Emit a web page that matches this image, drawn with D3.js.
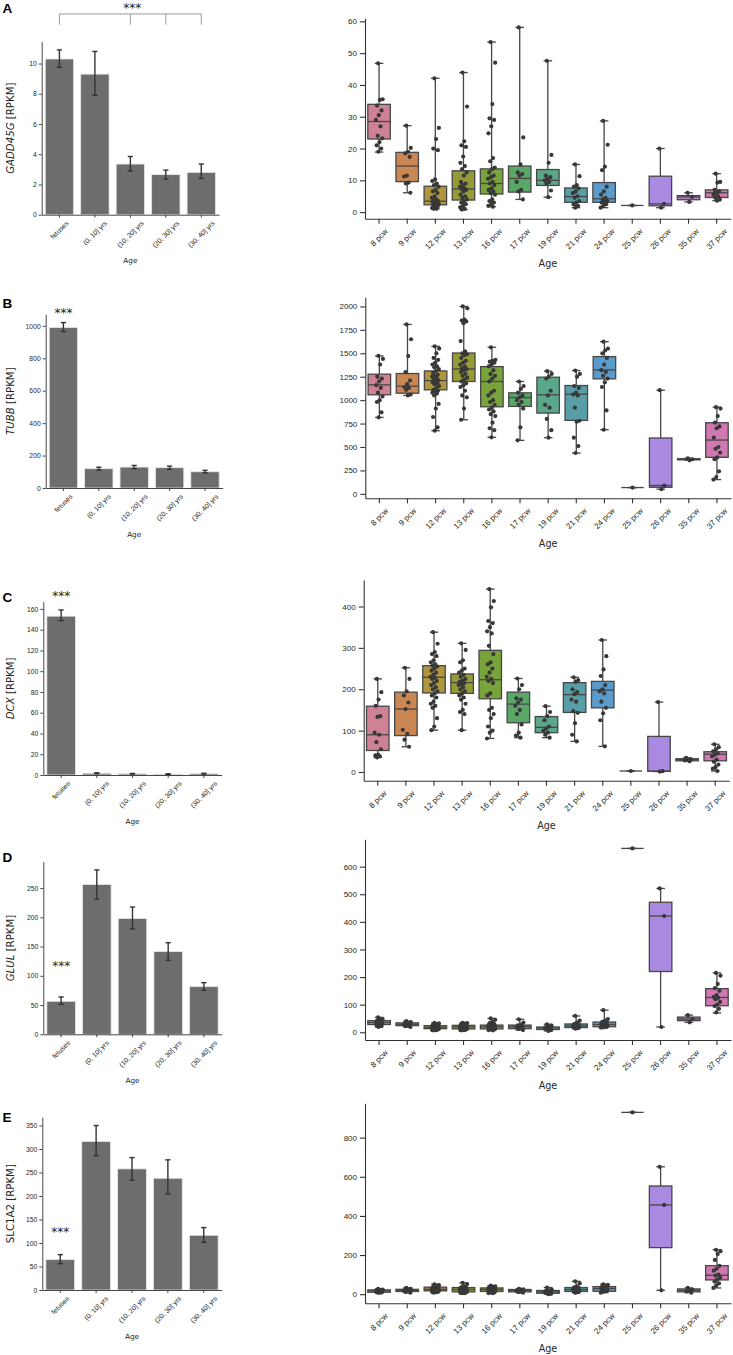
<!DOCTYPE html>
<html>
<head>
<meta charset="utf-8">
<script src="https://cdn.jsdelivr.net/npm/d3@7"></script>
<style>
  body { margin: 0; background: #fff; }
  svg { display: block; font-family: "DejaVu Sans", sans-serif; }
</style>
</head>
<body>
<svg id="fig" width="733" height="1355"></svg>
<script>
//
// Data
//

const ageGroups = ["fetuses", "(0, 10] yrs", "(10, 20] yrs", "(20, 30] yrs", "(30, 40] yrs"];
const pcwGroups = ["8 pcw", "9 pcw", "12 pcw", "13 pcw", "16 pcw", "17 pcw", "19 pcw",
  "21 pcw", "24 pcw", "25 pcw", "26 pcw", "35 pcw", "37 pcw"];
const boxColors = ["#cf8296", "#ca8753", "#b0973d", "#949b37", "#79a33b", "#5ba768", "#5aa78a",
  "#589ea6", "#5a9bcb", "#8a8fd8", "#a98ae0", "#bd78c8", "#cf78b2"];

// GADD45G
const gaddMean = [10.3, 9.3, 3.35, 2.65, 2.8];
const gaddLo = [9.75, 7.9, 2.9, 2.35, 2.4];
const gaddHi = [10.9, 10.8, 3.85, 2.95, 3.35];
// [whisker low, q1, median, q3, whisker high]
const gaddBox = [
  [18.9, 23.0, 28.5, 33.9, 46.8], [6.1, 9.6, 14.5, 18.8, 27.2], [1.05, 2.3, 3.45, 8.15, 42.1],
  [0.8, 3.8, 7.3, 13.0, 43.9], [1.7, 5.7, 9.0, 13.6, 53.5], [4.0, 6.3, 10.6, 14.5, 58.1],
  [4.7, 8.4, 10.0, 13.4, 47.6], [1.4, 3.1, 4.9, 7.6, 15.0], [1.4, 3.1, 4.2, 9.3, 28.7],
  [2.1, 2.1, 2.1, 2.1, 2.1], [1.4, 2.0, 2.6, 11.3, 20.0], [3.2, 3.9, 4.8, 5.2, 6.1],
  [3.6, 4.6, 6.1, 7.0, 12.1]
];
const gaddPts = [
  [46.8, 35.5, 35.3, 33.5, 32.0, 30.5, 29.0, 27.0, 24.0, 23.2, 22.0, 21.0, 20.0, 19.0],
  [27.2, 20.2, 19.0, 18.5, 17.4, 11.5, 11.2, 9.3, 9.0, 6.1],
  [42.1, 26.5, 23.0, 20.0, 19.5, 10.3, 9.8, 9.0, 8.5, 8.0, 7.0, 6.5, 6.0, 5.0, 4.5, 4.0, 3.8, 3.5,
    3.4, 3.2, 3.0, 2.8, 2.5, 2.2, 2.0, 1.8, 1.5, 1.3, 1.1, 1.05],
  [43.9, 33.2, 22.3, 21.0, 20.5, 17.5, 15.5, 14.5, 13.5, 12.5, 11.5, 9.5, 9.0, 8.5, 8.0, 7.5, 7.3,
    7.0, 6.5, 5.5, 5.0, 4.5, 4.0, 3.5, 3.0, 2.5, 2.0, 1.5, 1.0, 0.8],
  [53.5, 47.0, 34.0, 29.5, 29.0, 27.0, 24.8, 17.0, 16.0, 14.0, 13.5, 12.5, 11.5, 11.0, 10.5, 9.5,
    9.0, 8.5, 7.5, 7.0, 6.5, 6.0, 5.5, 4.0, 3.5, 3.0, 2.5, 2.0, 1.7],
  [58.1, 23.5, 15.0, 12.5, 12.0, 11.5, 9.5, 7.0, 6.5, 4.0],
  [47.6, 18.0, 15.5, 11.5, 11.0, 10.5, 10.0, 9.5, 9.0, 6.8, 4.7],
  [15.0, 11.3, 8.5, 8.0, 7.5, 6.5, 6.0, 5.0, 4.5, 3.5, 3.0, 2.5, 2.0, 1.4],
  [28.7, 21.2, 14.3, 13.2, 8.0, 6.5, 5.5, 4.5, 4.0, 3.5, 3.2, 3.0, 2.5, 2.0, 1.4],
  [2.1],
  [20.0, 2.6, 1.4],
  [6.1, 4.8, 3.2],
  [12.1, 9.5, 9.3, 7.0, 6.5, 6.0, 5.5, 5.0, 4.5, 4.0, 3.6]
];

// TUBB
const tubbMean = [990, 119, 129, 125, 100];
const tubbLo = [965, 111, 119, 115, 94];
const tubbHi = [1020, 128, 139, 135, 109];
const tubbBox = [
  [816, 1057, 1163, 1277, 1472], [1050, 1074, 1149, 1284, 1808], [674, 1110, 1209, 1312, 1574],
  [791, 1199, 1333, 1503, 2000], [603, 929, 1199, 1358, 1564], [571, 933, 1028, 1078, 1199],
  [599, 862, 1057, 1245, 1309], [436, 784, 1064, 1156, 1316], [684, 1227, 1323, 1465, 1624],
  [67, 67, 67, 67, 67], [50, 70, 89, 596, 1106], [358, 363, 369, 375, 380],
  [152, 390, 574, 759, 925]
];
const tubbPts = [
  [1472, 1440, 1380, 1250, 1230, 1200, 1160, 1130, 1080, 1040, 1000, 980, 870, 816],
  [1808, 1650, 1470, 1300, 1210, 1170, 1140, 1130, 1110, 1060, 1050],
  [1574, 1550, 1500, 1450, 1430, 1400, 1380, 1360, 1350, 1330, 1310, 1290, 1270, 1260, 1250, 1240,
    1220, 1210, 1200, 1190, 1180, 1170, 1150, 1130, 1110, 1100, 1090, 1080, 1070, 1050, 960, 910,
    820, 710, 674],
  [2000, 1980, 1860, 1850, 1840, 1820, 1630, 1520, 1500, 1490, 1480, 1450, 1420, 1400, 1380, 1360,
    1340, 1330, 1320, 1300, 1280, 1260, 1240, 1220, 1200, 1180, 1160, 1140, 1100, 1050, 1030, 910, 791],
  [1564, 1430, 1420, 1410, 1400, 1380, 1360, 1320, 1280, 1260, 1230, 1200, 1100, 1080, 1050, 1000,
    980, 950, 920, 900, 880, 850, 830, 760, 700, 680, 603],
  [1199, 1150, 1120, 1080, 1050, 1030, 1000, 980, 950, 910, 710, 571],
  [1309, 1280, 1250, 1230, 1100, 1050, 950, 920, 800, 680, 599],
  [1316, 1280, 1250, 1150, 1130, 1080, 1060, 1050, 920, 780, 770, 600, 510, 436],
  [1624, 1550, 1530, 1500, 1450, 1380, 1320, 1300, 1260, 1230, 1190, 1140, 890, 684],
  [67],
  [1106, 89, 50],
  [380, 369, 358],
  [925, 910, 830, 760, 720, 700, 600, 500, 480, 440, 390, 370, 240, 180, 152]
];

// DCX
const dcxMean = [153, 1.7, 1.2, 0.9, 1.3];
const dcxLo = [148.7, 1.3, 0.9, 0.6, 0.9];
const dcxHi = [159, 2.1, 1.5, 1.2, 1.7];
const dcxBox = [
  [35, 52, 90, 159, 225], [61, 88, 152, 193, 252], [101, 191, 229, 257, 338],
  [101, 190, 216, 237, 311], [81, 177, 223, 294, 442], [83, 119, 164, 193, 226],
  [83, 95, 108, 134, 159], [74, 144, 187, 216, 229], [62, 155, 198, 219, 319],
  [2.4, 2.4, 2.4, 2.4, 2.4], [1.0, 1.5, 2.0, 86, 169], [26, 27, 30, 32, 34],
  [2.4, 27, 43, 49, 67]
];
const dcxPts = [
  [225, 193, 175, 160, 135, 133, 95, 90, 72, 55, 42, 40, 38, 35],
  [252, 225, 195, 185, 168, 152, 102, 92, 78, 61],
  [338, 310, 290, 285, 280, 270, 265, 260, 257, 255, 250, 245, 240, 235, 230, 228, 225, 220, 215,
    210, 205, 200, 195, 190, 185, 180, 170, 165, 160, 155, 130, 110, 101],
  [311, 295, 270, 265, 250, 245, 240, 235, 230, 225, 220, 218, 215, 212, 210, 205, 200, 195, 190,
    185, 180, 175, 165, 150, 145, 140, 101],
  [442, 413, 398, 365, 360, 350, 340, 335, 305, 285, 265, 260, 250, 240, 230, 225, 220, 215, 190,
    185, 155, 150, 140, 130, 110, 100, 95, 81],
  [226, 210, 200, 178, 175, 168, 160, 150, 140, 115, 95, 88, 83],
  [159, 145, 135, 125, 110, 105, 100, 95, 90, 83],
  [229, 222, 218, 200, 193, 188, 175, 170, 147, 143, 118, 90, 74],
  [319, 280, 248, 232, 210, 200, 195, 190, 170, 155, 142, 125, 62],
  [2.4],
  [169, 2.0, 1.0],
  [34, 31, 30, 28, 26],
  [67, 60, 55, 50, 45, 42, 38, 30, 25, 18, 12, 8, 2.4]
];

// GLUL
const glulMean = [56.4, 256, 198, 141.4, 81.4];
const glulLo = [51.3, 231, 180, 126.4, 75.2];
const glulHi = [63.8, 281, 217.5, 156.6, 88.3];
const glulBox = [
  [19, 28, 35, 42, 54], [19, 24, 29, 34, 40], [7, 13, 18, 24, 34],
  [7, 12, 19, 25, 34], [7, 12, 20, 26, 50], [8, 13, 20, 26, 47],
  [5, 10, 16, 19, 29], [13, 17, 23, 30, 59], [17, 20, 28, 37, 80],
  [666, 666, 666, 666, 666], [19, 220, 421, 471, 521], [36, 42, 48, 55, 62],
  [70, 96, 126, 158, 215]
];
const glulPts = [
  [54, 48, 45, 42, 40, 38, 36, 35, 33, 30, 28, 25, 22, 19],
  [40, 37, 34, 32, 30, 28, 27, 24, 22, 19],
  [34, 32, 30, 28, 26, 25, 24, 23, 22, 21, 20, 19, 18, 18, 17, 17, 16, 15, 15, 14, 13, 13, 12, 11,
    10, 10, 9, 8, 8, 7],
  [34, 33, 31, 29, 27, 26, 25, 24, 23, 22, 21, 20, 19, 19, 18, 17, 16, 15, 14, 13, 13, 12, 12, 11,
    10, 10, 9, 8, 8, 7],
  [50, 45, 38, 33, 30, 28, 27, 26, 25, 24, 23, 22, 21, 20, 20, 19, 18, 17, 16, 15, 14, 13, 12, 12,
    11, 10, 9, 8, 7],
  [47, 35, 27, 25, 22, 20, 18, 15, 12, 8],
  [29, 24, 20, 19, 17, 16, 14, 12, 10, 8, 5],
  [59, 42, 35, 30, 28, 26, 24, 23, 21, 19, 18, 17, 15, 13],
  [80, 48, 42, 38, 36, 33, 30, 28, 26, 24, 22, 20, 19, 18, 17],
  [666],
  [521, 421, 19],
  [62, 48, 36],
  [215, 205, 175, 160, 150, 135, 128, 125, 120, 110, 100, 95, 85, 72]
];

// SLC1A2
const slcMean = [64.6, 316, 257.7, 237.8, 116.4];
const slcLo = [56.1, 286, 233.6, 204.5, 101.5];
const slcHi = [75.3, 350, 281.8, 277, 132.8];
const slcBox = [
  [7, 10, 17, 22, 27], [8, 14, 20, 25, 32], [8, 17, 25, 36, 51],
  [5, 12, 24, 34, 58], [5, 14, 24, 32, 44], [8, 12, 19, 24, 27],
  [0, 5, 12, 19, 34], [7, 14, 24, 34, 66], [8, 15, 29, 39, 51],
  [929, 929, 929, 929, 929], [20, 238, 456, 553, 651], [8, 12, 20, 27, 32],
  [32, 73, 97, 146, 227]
];
const slcPts = [
  [27, 24, 22, 21, 19, 18, 17, 16, 14, 12, 11, 10, 8, 7],
  [32, 27, 25, 23, 21, 19, 17, 14, 11, 8],
  [51, 46, 42, 38, 36, 34, 32, 30, 28, 27, 26, 25, 25, 24, 23, 22, 21, 20, 19, 18, 17, 17, 16, 15,
    14, 13, 12, 11, 10, 8],
  [58, 52, 40, 36, 34, 33, 31, 30, 28, 27, 26, 25, 24, 24, 23, 22, 20, 18, 16, 14, 13, 12, 12, 11,
    10, 9, 8, 7, 6, 5],
  [44, 40, 37, 35, 33, 32, 31, 30, 29, 28, 27, 26, 25, 24, 24, 23, 22, 21, 20, 18, 16, 15, 14, 13,
    12, 10, 8, 6, 5],
  [27, 25, 24, 22, 20, 18, 16, 13, 11, 8],
  [34, 25, 19, 17, 14, 12, 10, 7, 5, 2, 0],
  [66, 55, 40, 35, 32, 28, 26, 24, 22, 18, 15, 14, 10, 7],
  [51, 48, 42, 39, 36, 33, 30, 29, 26, 22, 18, 16, 15, 12, 8],
  [929],
  [651, 456, 20],
  [32, 24, 20, 14, 8],
  [227, 220, 205, 175, 145, 130, 120, 100, 95, 85, 75, 65, 55, 45, 32]
];

// tick values
const gaddBarTicks = [0, 2, 4, 6, 8, 10];
const gaddBoxTicks = [0, 10, 20, 30, 40, 50, 60];
const tubbBarTicks = [0, 200, 400, 600, 800, 1000];
const tubbBoxTicks = [0, 250, 500, 750, 1000, 1250, 1500, 1750, 2000];
const dcxBarTicks = [0, 20, 40, 60, 80, 100, 120, 140, 160];
const dcxBoxTicks = [0, 100, 200, 300, 400];
const glulBarTicks = [0, 50, 100, 150, 200, 250];
const glulBoxTicks = [0, 100, 200, 300, 400, 500, 600];
const slcBarTicks = [0, 50, 100, 150, 200, 250, 300, 350];
const slcBoxTicks = [0, 200, 400, 600, 800];

// significance marks (value units on the bar chart axis)
const starLevel = [13.87, 1097, 175, 122, 130];
const bracketGroups = ["fetuses", "(10, 20] yrs", "(20, 30] yrs", "(30, 40] yrs"];
const bracketTop = 13.28;
const bracketFoot = 12.57;

const genes = [
  { letter: "A", name: "GADD45G", italic: true, mean: gaddMean, lo: gaddLo, hi: gaddHi,
    box: gaddBox, pts: gaddPts, barTicks: gaddBarTicks, boxTicks: gaddBoxTicks },
  { letter: "B", name: "TUBB", italic: true, mean: tubbMean, lo: tubbLo, hi: tubbHi,
    box: tubbBox, pts: tubbPts, barTicks: tubbBarTicks, boxTicks: tubbBoxTicks },
  { letter: "C", name: "DCX", italic: true, mean: dcxMean, lo: dcxLo, hi: dcxHi,
    box: dcxBox, pts: dcxPts, barTicks: dcxBarTicks, boxTicks: dcxBoxTicks },
  { letter: "D", name: "GLUL", italic: true, mean: glulMean, lo: glulLo, hi: glulHi,
    box: glulBox, pts: glulPts, barTicks: glulBarTicks, boxTicks: glulBoxTicks },
  { letter: "E", name: "SLC1A2", italic: false, mean: slcMean, lo: slcLo, hi: slcHi,
    box: slcBox, pts: slcPts, barTicks: slcBarTicks, boxTicks: slcBoxTicks }
];

//
// Layout (pixel frames of the axes in each row)
//

const frames = [
  { lx0: 41.7, lx1: 219, lyTop: 41.7, lyZero: 214.7, rx0: 365, rx1: 730.7, ryTop: 18.3, ryBot: 218.7, letterY: 13.3 },
  { lx0: 45.7, lx1: 222.7, lyTop: 314.3, lyZero: 488, rx0: 365.3, rx1: 731, ryTop: 297.3, ryBot: 498.3, letterY: 307.7 },
  { lx0: 43.3, lx1: 221.7, lyTop: 601.7, lyZero: 775, rx0: 363.7, rx1: 729.3, ryTop: 580, ryBot: 780.7, letterY: 602.3 },
  { lx0: 43.3, lx1: 221.7, lyTop: 861.7, lyZero: 1034.3, rx0: 365, rx1: 731, ryTop: 839.3, ryBot: 1040, letterY: 862 },
  { lx0: 42.3, lx1: 221.7, lyTop: 1117.3, lyZero: 1290, rx0: 365, rx1: 731, ryTop: 1103.3, ryBot: 1303.3, letterY: 1122 }
];

const inkColor = "#262626";
const spineColor = "#333";
const barFill = "#6d6d6d";
const errColor = "#333";
const boxEdge = "#474747";
const dotColor = "#383838";
const plain = d3.format("d");

const svg = d3.select("#fig");

//
// Helpers
//

function styleAxis(g, fontSize, width) {
  g.select(".domain").attr("stroke", spineColor).attr("stroke-width", width);
  g.selectAll(".tick line").attr("stroke", spineColor).attr("stroke-width", width);
  g.selectAll(".tick text").attr("fill", inkColor).attr("font-size", fontSize);
}

function tiltLabels(g, fontSize, offset) {
  g.selectAll(".tick text").each(function () {
    const t = d3.select(this);
    const len = this.getComputedTextLength();
    const half = (len + fontSize * 0.95) * 0.3536;
    t.attr("x", 0).attr("y", 0).attr("dy", "0.35em")
      .attr("text-anchor", "middle")
      .attr("transform", `translate(0,${offset + half}) rotate(-45)`);
  });
}

// vertical axis title: italic gene name followed by the unit, as two texts
function yTitle(x, y, gene, size) {
  const name = svg.append("text")
    .attr("font-size", size).attr("fill", inkColor)
    .attr("font-style", gene.italic ? "italic" : "normal")
    .text(gene.name);
  const unit = svg.append("text")
    .attr("font-size", size).attr("fill", inkColor)
    .text("\u00a0[RPKM]");
  const l1 = name.node().getComputedTextLength();
  const l2 = unit.node().getComputedTextLength();
  const start = y + (l1 + l2) / 2;
  name.attr("transform", `translate(${x},${start}) rotate(-90)`);
  unit.attr("transform", `translate(${x},${start - l1}) rotate(-90)`);
}

function jitter(i, step) {
  // deterministic spread of the strip points inside a category
  return (((i * 0.618034 + 0.37) % 1) - 0.5) * 2 * 0.13 * step;
}

//
// Bar charts (left column)
//

function drawBars(gene, f, row) {
  const x = d3.scaleBand().domain(ageGroups).range([f.lx0, f.lx1]).padding(0);
  const y = d3.scaleLinear().domain([0, d3.max(gene.hi) * 1.05]).range([f.lyZero, f.lyTop]);
  const bw = x.bandwidth() * 0.8;
  const g = svg.append("g");

  g.selectAll("rect.bar").data(ageGroups).join("rect")
    .attr("x", d => x(d) + (x.bandwidth() - bw) / 2)
    .attr("y", (d, i) => y(gene.mean[i]))
    .attr("width", bw)
    .attr("height", (d, i) => y(0) - y(gene.mean[i]))
    .attr("fill", barFill)
    .attr("stroke", "#e6e6e6")
    .attr("stroke-width", 0.8);

  const cx = d => x(d) + x.bandwidth() / 2;
  const err = g.selectAll("g.err").data(ageGroups).join("g").attr("stroke", errColor).attr("stroke-width", 1.4);
  err.append("line").attr("x1", cx).attr("x2", cx)
    .attr("y1", (d, i) => y(gene.lo[i])).attr("y2", (d, i) => y(gene.hi[i]));
  err.append("line").attr("x1", d => cx(d) - 2.6).attr("x2", d => cx(d) + 2.6)
    .attr("y1", (d, i) => y(gene.lo[i])).attr("y2", (d, i) => y(gene.lo[i]));
  err.append("line").attr("x1", d => cx(d) - 2.6).attr("x2", d => cx(d) + 2.6)
    .attr("y1", (d, i) => y(gene.hi[i])).attr("y2", (d, i) => y(gene.hi[i]));

  const ya = svg.append("g").attr("transform", `translate(${f.lx0},0)`)
    .call(d3.axisLeft(y).tickValues(gene.barTicks).tickFormat(plain)
      .tickSize(3).tickPadding(2).tickSizeOuter(0));
  styleAxis(ya, 6.8, 0.9);
  const xa = svg.append("g").attr("transform", `translate(0,${f.lyZero})`)
    .call(d3.axisBottom(x).tickSize(3).tickSizeOuter(0));
  styleAxis(xa, 6.9, 0.9);
  tiltLabels(xa, 6.9, 5);

  svg.append("text").attr("x", (f.lx0 + f.lx1) / 2).attr("y", f.lyZero + 48.5)
    .attr("text-anchor", "middle").attr("font-size", 7.3).attr("fill", inkColor).text("Age");
  yTitle(13.5, (f.lyTop + f.lyZero) / 2, gene, 10.2);

  // significance
  const starSize = 12;
  if (row === 0) {
    const br = svg.append("g").attr("stroke", "#9a9a9a").attr("stroke-width", 1).attr("fill", "none");
    const first = cx(bracketGroups[0]), last = cx(bracketGroups[bracketGroups.length - 1]);
    br.append("line").attr("x1", first).attr("x2", last).attr("y1", y(bracketTop)).attr("y2", y(bracketTop));
    br.selectAll("line.foot").data(bracketGroups).join("line").attr("class", "foot")
      .attr("x1", cx).attr("x2", cx).attr("y1", y(bracketTop)).attr("y2", y(bracketFoot));
    svg.append("text").attr("x", (first + last) / 2 + 2).attr("y", y(starLevel[row]) + starSize * 0.59)
      .attr("text-anchor", "middle").attr("font-size", starSize).attr("fill", "#222").text("***");
  } else {
    svg.append("text").attr("x", cx(ageGroups[0])).attr("y", y(starLevel[row]) + starSize * 0.59)
      .attr("text-anchor", "middle").attr("font-size", starSize).attr("fill", "#222").text("***");
  }

  svg.append("text").attr("x", 2.5).attr("y", f.letterY)
    .attr("font-family", "'Liberation Sans', Arial, sans-serif").attr("font-weight", "bold")
    .attr("font-size", 13.5).attr("fill", "#000").text(gene.letter);
}

//
// Box + strip plots (right column)
//

function drawBoxes(gene, f) {
  const x = d3.scaleBand().domain(pcwGroups).range([f.rx0, f.rx1]).padding(0);
  const all = gene.pts.flat().concat(gene.box.flat());
  const lo = d3.min(all), hi = d3.max(all), pad = (hi - lo) * 0.05;
  const y = d3.scaleLinear().domain([lo - pad, hi + pad]).range([f.ryBot, f.ryTop]);
  const step = x.bandwidth();
  const bw = step * 0.8;
  const capW = bw * 0.38;
  const cx = d => x(d) + step / 2;

  const g = svg.append("g");
  const boxes = g.selectAll("g.box").data(pcwGroups).join("g")
    .attr("stroke", boxEdge).attr("stroke-width", 1.3).attr("fill", "none");

  // whiskers
  boxes.append("line").attr("x1", cx).attr("x2", cx)
    .attr("y1", (d, i) => y(gene.box[i][3])).attr("y2", (d, i) => y(gene.box[i][4]));
  boxes.append("line").attr("x1", cx).attr("x2", cx)
    .attr("y1", (d, i) => y(gene.box[i][1])).attr("y2", (d, i) => y(gene.box[i][0]));
  // caps
  boxes.append("line").attr("x1", d => cx(d) - capW / 2).attr("x2", d => cx(d) + capW / 2)
    .attr("y1", (d, i) => y(gene.box[i][4])).attr("y2", (d, i) => y(gene.box[i][4]));
  boxes.append("line").attr("x1", d => cx(d) - capW / 2).attr("x2", d => cx(d) + capW / 2)
    .attr("y1", (d, i) => y(gene.box[i][0])).attr("y2", (d, i) => y(gene.box[i][0]));
  // box
  boxes.append("rect")
    .attr("x", d => cx(d) - bw / 2).attr("width", bw)
    .attr("y", (d, i) => y(gene.box[i][3]))
    .attr("height", (d, i) => y(gene.box[i][1]) - y(gene.box[i][3]))
    .attr("fill", (d, i) => boxColors[i]);
  // median
  boxes.append("line").attr("x1", d => cx(d) - bw / 2).attr("x2", d => cx(d) + bw / 2)
    .attr("y1", (d, i) => y(gene.box[i][2])).attr("y2", (d, i) => y(gene.box[i][2]));

  // strip points
  const dots = [];
  pcwGroups.forEach((c, ci) => {
    gene.pts[ci].forEach((v, i) => dots.push({ c, v, dx: gene.pts[ci].length > 1 ? jitter(i, step) : 0 }));
  });
  g.selectAll("circle").data(dots).join("circle")
    .attr("cx", d => cx(d.c) + d.dx)
    .attr("cy", d => y(d.v))
    .attr("r", 2.1)
    .attr("fill", dotColor);

  const ya = svg.append("g").attr("transform", `translate(${f.rx0},0)`)
    .call(d3.axisLeft(y).tickValues(gene.boxTicks).tickFormat(plain)
      .tickSize(5).tickPadding(3).tickSizeOuter(0));
  styleAxis(ya, 8, 1.1);
  const xa = svg.append("g").attr("transform", `translate(0,${f.ryBot})`)
    .call(d3.axisBottom(x).tickSize(5).tickSizeOuter(0));
  styleAxis(xa, 8, 1.1);
  tiltLabels(xa, 8, 8.5);

  svg.append("text").attr("x", (f.rx0 + f.rx1) / 2).attr("y", f.ryBot + 48.5)
    .attr("text-anchor", "middle").attr("font-size", 9.6).attr("fill", inkColor).text("Age");
  const labelX = ya.node().getBBox().x - 4;
  yTitle(labelX, (f.ryTop + f.ryBot) / 2, gene, 9.2);
}

//
// Initialization
//

genes.forEach((gene, row) => {
  drawBars(gene, frames[row], row);
  drawBoxes(gene, frames[row]);
});
</script>
</body>
</html>
